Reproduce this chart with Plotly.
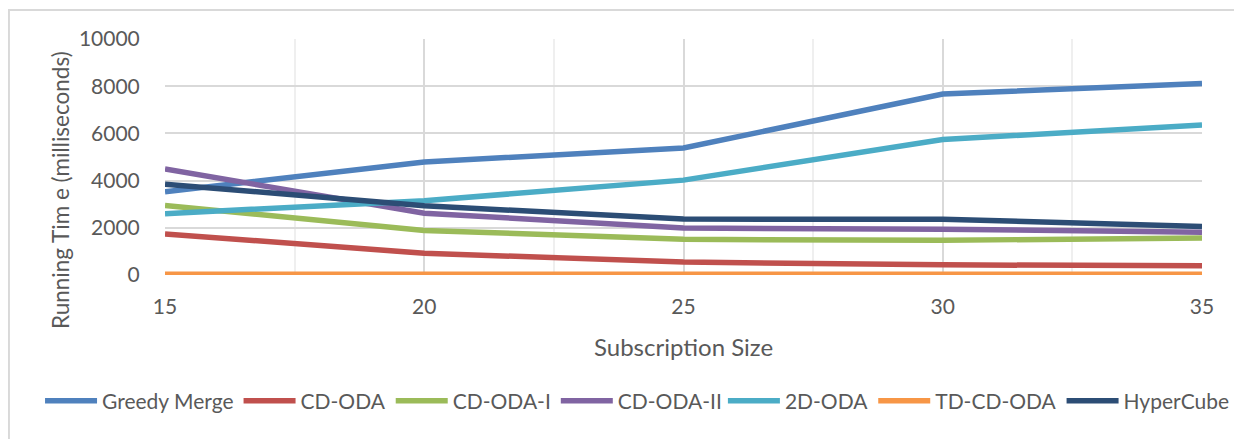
import plotly.graph_objects as go

subscription_size = [15, 20, 25, 30, 35]
greedy_merge = [3530, 4790, 5380, 7670, 8110]
cd_oda = [1740, 920, 550, 430, 390]
cd_oda_i = [2950, 1890, 1510, 1470, 1570]
cd_oda_ii = [4490, 2620, 1990, 1940, 1810]
two_d_oda = [2600, 3150, 4020, 5740, 6360]
td_cd_oda = [30, 30, 30, 30, 30]
hypercube = [3850, 2930, 2370, 2360, 2060]

series = [
    ("Greedy Merge", greedy_merge, "#4F81BD", "legend"),
    ("CD-ODA", cd_oda, "#C0504D", "legend"),
    ("CD-ODA-I", cd_oda_i, "#9BBB59", "legend"),
    ("CD-ODA-II", cd_oda_ii, "#8064A2", "legend"),
    ("2D-ODA", two_d_oda, "#4BACC6", "legend2"),
    ("TD-CD-ODA", td_cd_oda, "#F79646", "legend2"),
    ("HyperCube", hypercube, "#2C4D75", "legend2"),
]

FONT = "Lato"
TXT = "#595959"

fig = go.Figure()
for name, vals, col, leg in series:
    fig.add_trace(go.Scatter(x=subscription_size, y=vals, name=name, mode="lines",
                             line=dict(color=col, width=5.5), legend=leg))

legend_style = dict(orientation="h", xanchor="left", yanchor="middle", y=-0.534,
                    bgcolor="rgba(0,0,0,0)",
                    font=dict(size=21, color=TXT), itemwidth=52, tracegroupgap=0)

fig.update_layout(
    width=1234, height=431,
    margin=dict(l=157, r=40, t=31, b=164, autoexpand=False),
    paper_bgcolor="white", plot_bgcolor="white",
    font=dict(family=FONT, color=TXT, size=20),
    showlegend=True,
    legend=dict(x=-0.1205, **legend_style),
    legend2=dict(x=0.538, **legend_style),
    xaxis=dict(range=[15, 35], tickvals=subscription_size, showgrid=True,
               gridcolor="#D9D9D9", gridwidth=2, zeroline=False, showline=False,
               ticks="outside", ticklen=13, tickcolor="rgba(0,0,0,0)",
               tickfont=dict(size=21, color=TXT),
               minor=dict(dtick=2.5, tick0=15, showgrid=True, gridcolor="#EFEFEF", gridwidth=2)),
    yaxis=dict(range=[0, 10000], dtick=2000, tickformat="d", showgrid=True,
               gridcolor="#D9D9D9", gridwidth=2,
               zeroline=False, showline=False, ticks="outside", ticklen=20,
               tickcolor="rgba(0,0,0,0)", tickfont=dict(size=21, color=TXT)),
    annotations=[
        dict(text="Running Tim e (milliseconds)", textangle=-90, x=-0.1013, xref="paper",
             xanchor="center", y=0.36, yref="paper", yanchor="middle", showarrow=False,
             font=dict(size=22.5, color=TXT)),
        dict(text="Subscription Size", x=0.5, xref="paper", xanchor="center",
             y=-0.305, yref="paper", yanchor="middle", showarrow=False,
             font=dict(size=24, color=TXT)),
    ],
    shapes=[dict(type="rect", xref="paper", yref="paper", x0=-0.1505, x1=1.1, y0=-0.8, y1=1.123,
                 line=dict(color="#D9D9D9", width=2))],
)

fig.write_html("out.html")
